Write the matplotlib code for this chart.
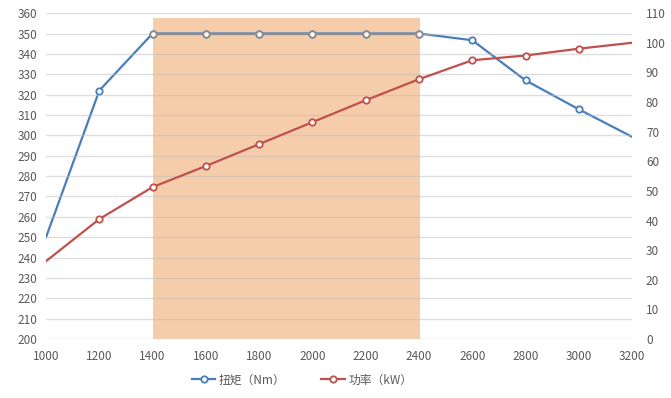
import matplotlib.pyplot as plt

plt.rcParams['font.family'] = ['Noto Sans CJK SC', 'DejaVu Sans']

# ---------------------------------- data ----------------------------------
rpm = [1000, 1200, 1400, 1600, 1800, 2000, 2200, 2400, 2600, 2800, 3000, 3200]
torque = [250, 322, 350, 350, 350, 350, 350, 350, 346.7, 327, 312.8, 299.3]
power = [26.3, 40.5, 51.3, 58.4, 65.8, 73.2, 80.6, 87.7, 94.1, 95.7, 98.0, 100.0]
band_start, band_end, band_top = 1400, 2405, 357.5
torque_label = "扭矩（Nm）"
power_label = "功率（kW）"

blue = "#4a7ebb"
red = "#c0504d"
grey = "#8c8c8c"
text_col = "#595959"

# ---------------------------------- plot ----------------------------------
fig = plt.figure(figsize=(6.71, 3.98), dpi=100)
ax1 = fig.add_axes([0.0686, 0.148, 0.8734, 0.819])
ax2 = ax1.twinx()

ax1.axvspan(band_start, band_end, ymin=0, ymax=(band_top - 200) / 160,
            color="#f6cdaa", zorder=0, lw=0)
ax1.set_axisbelow(False)
ax1.grid(axis="y", color="#bfbfbf", alpha=0.5, lw=1, zorder=0.5)

style = dict(lw=1.6, marker="o", ms=4.6, mfc="white", mew=1.3)
inner = slice(1, -1)  # no markers on the end points
ax1.plot(rpm, torque, color=blue, markevery=inner, zorder=2, **style)
# segment over the shaded band appears grey
i0, i1 = rpm.index(1400), rpm.index(2400)
ax1.plot(rpm[i0:i1 + 1], torque[i0:i1 + 1], color=grey, zorder=3, **style)
ax2.plot(rpm, power, color=red, markevery=inner, **style)

ax1.set_xlim(1000, 3200)
ax1.set_ylim(200, 360)
ax2.set_ylim(0, 110)
ax1.set_xticks(range(1000, 3201, 200))
ax1.set_yticks(range(200, 361, 10))
ax2.set_yticks(range(0, 111, 10))

for ax in (ax1, ax2):
    for s in ax.spines.values():
        s.set_visible(False)
    ax.tick_params(length=0, labelsize=8.5, colors=text_col, pad=6)
ax1.tick_params(axis="x", pad=8)
ax2.tick_params(axis="y", pad=10)

h1 = plt.Line2D([], [], color=blue, **style)
h2 = plt.Line2D([], [], color=red, **style)
fig.legend([h1, h2], [torque_label, power_label], loc="center",
           bbox_to_anchor=(0.45, 0.045), ncol=2, frameon=False,
           fontsize=8.5, labelcolor=text_col, handlelength=2.0,
           columnspacing=3, handletextpad=0.3)

fig.savefig("out.png", dpi=100)
